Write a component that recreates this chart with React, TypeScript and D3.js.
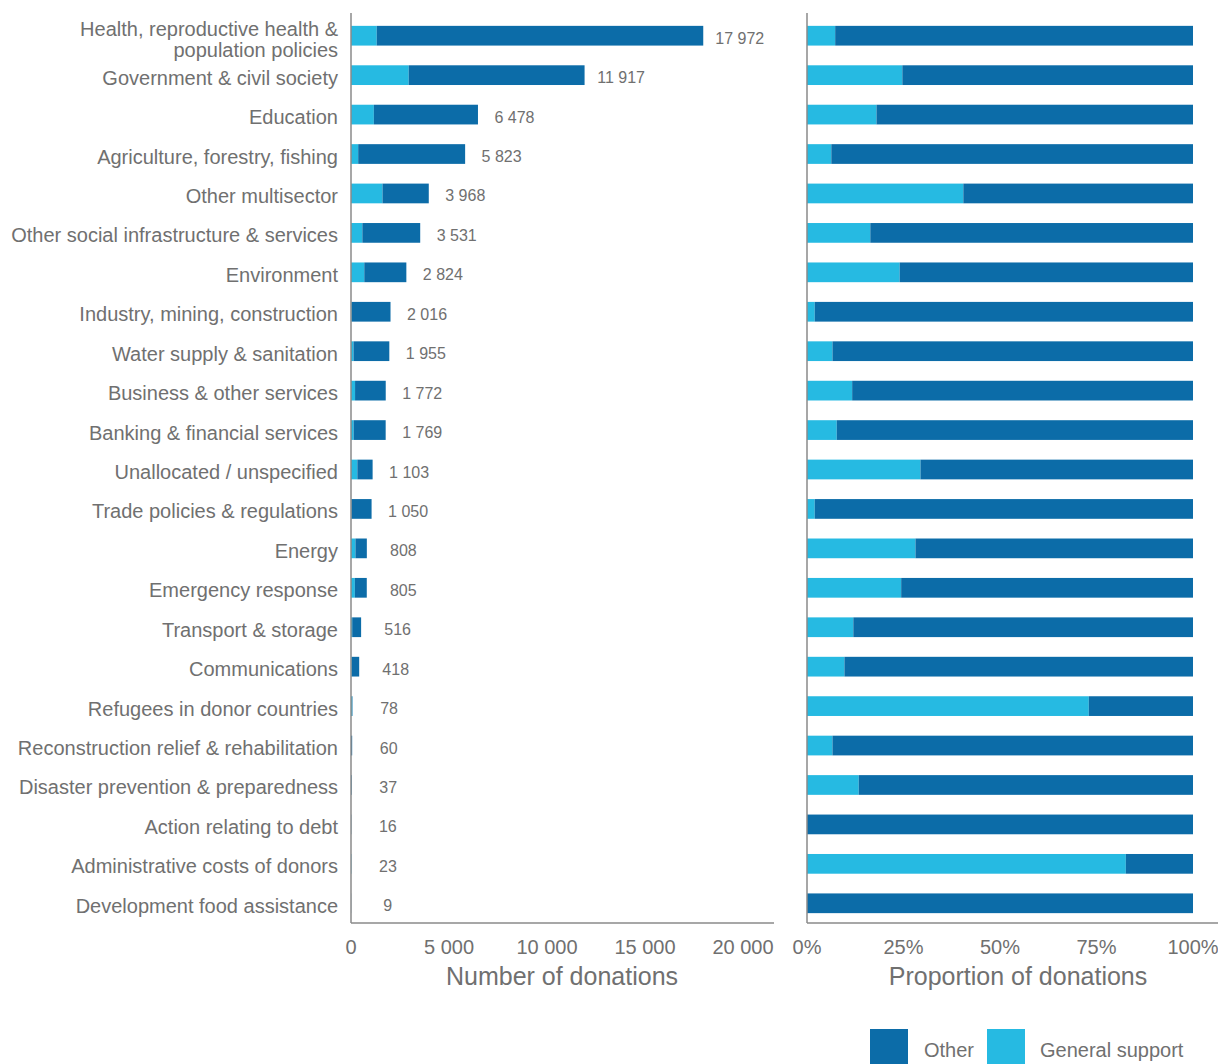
import React from "react";
import * as d3 from "d3";

const categories: string[] = [
  "Health, reproductive health &\npopulation policies",
  "Government & civil society",
  "Education",
  "Agriculture, forestry, fishing",
  "Other multisector",
  "Other social infrastructure & services",
  "Environment",
  "Industry, mining, construction",
  "Water supply & sanitation",
  "Business & other services",
  "Banking & financial services",
  "Unallocated / unspecified",
  "Trade policies & regulations",
  "Energy",
  "Emergency response",
  "Transport & storage",
  "Communications",
  "Refugees in donor countries",
  "Reconstruction relief & rehabilitation",
  "Disaster prevention & preparedness",
  "Action relating to debt",
  "Administrative costs of donors",
  "Development food assistance",
];

const totalDonations: number[] = [
  17972, 11917, 6478, 5823, 3968, 3531, 2824, 2016, 1955, 1772, 1769, 1103,
  1050, 808, 805, 516, 418, 78, 60, 37, 16, 23, 9,
];

// share of "General support" in percent
const generalSharePct: number[] = [
  7.3, 24.7, 18.0, 6.3, 40.5, 16.4, 24.0, 2.0, 6.6, 11.7, 7.7, 29.4, 2.0,
  28.1, 24.4, 12.0, 9.7, 73.0, 6.6, 13.4, 0, 82.6, 0,
];

const countTicks: number[] = [0, 5000, 10000, 15000, 20000];
const pctTicks: number[] = [0, 0.25, 0.5, 0.75, 1];
const seriesNames: string[] = ["Other", "General support"];

const DARK = "#0C6CA8";
const LIGHT = "#26BAE2";
const TEXT = "#707070";
const AXIS = "#8a8a8a";
const FONT = "'Liberation Sans', Arial, sans-serif";

const locale = d3.formatLocale({
  decimal: ".",
  thousands: "\u00a0",
  grouping: [3],
  currency: ["", ""],
});
const fmt = locale.format(",");
const pctFmt = d3.format(".0%");

export default function App() {
  const W = 1218;
  const H = 1064;
  const top = 16;
  const bottom = 923;

  const y = d3
    .scaleBand<number>()
    .domain(d3.range(categories.length))
    .range([top, bottom])
    .paddingInner(0.5)
    .paddingOuter(0.25);

  const xL = d3.scaleLinear().domain([0, 20000]).range([351, 743]);
  const xR = d3.scaleLinear().domain([0, 1]).range([807, 1193]);

  const bh = y.bandwidth();

  return (
    <svg
      width={W}
      height={H}
      style={{ position: "absolute", left: 0, top: 0, display: "block" }}
      fontFamily={FONT}
    >
      <rect x={0} y={0} width={W} height={H} fill="#fff" />

      {/* Category labels */}
      {categories.map((c, i) => {
        const lines = c.split("\n");
        const cy = (y(i) as number) + bh / 2;
        const first = cy + 9.5 - (lines.length - 1) * 9.5;
        return (
          <text
            key={"lab" + i}
            x={338}
            y={first}
            textAnchor="end"
            fontSize={20}
            fill={TEXT}
          >
            {lines.map((l, j) => (
              <tspan key={j} x={338} y={first + j * 21.5}>
                {l}
              </tspan>
            ))}
          </text>
        );
      })}

      {/* Left panel bars */}
      {totalDonations.map((t, i) => {
        const g = (t * generalSharePct[i]) / 100;
        const yy = y(i) as number;
        return (
          <g key={"lb" + i}>
            <rect
              x={xL(0)}
              y={yy}
              width={Math.max(0, xL(g) - xL(0))}
              height={bh}
              fill={LIGHT}
            />
            <rect
              x={xL(g)}
              y={yy}
              width={Math.max(0, xL(t) - xL(g))}
              height={bh}
              fill={DARK}
            />
            <text
              x={xL(t) + 36.5}
              y={yy + bh / 2 + 8}
              textAnchor="middle"
              fontSize={16}
              fill={TEXT}
            >
              {fmt(t)}
            </text>
          </g>
        );
      })}

      {/* Right panel bars */}
      {generalSharePct.map((p, i) => {
        const s = p / 100;
        const yy = y(i) as number;
        return (
          <g key={"rb" + i}>
            <rect
              x={xR(0)}
              y={yy}
              width={xR(s) - xR(0)}
              height={bh}
              fill={LIGHT}
            />
            <rect
              x={xR(s)}
              y={yy}
              width={xR(1) - xR(s)}
              height={bh}
              fill={DARK}
            />
          </g>
        );
      })}

      {/* Axes lines */}
      <line x1={351} x2={351} y1={13} y2={bottom} stroke={AXIS} strokeWidth={1.5} />
      <line x1={351} x2={774} y1={bottom} y2={bottom} stroke={AXIS} strokeWidth={1.5} />
      <line x1={807} x2={807} y1={13} y2={bottom} stroke={AXIS} strokeWidth={1.5} />
      <line x1={807} x2={1218} y1={bottom} y2={bottom} stroke={AXIS} strokeWidth={1.5} />

      {/* Tick labels */}
      {countTicks.map((t) => (
        <text
          key={"ct" + t}
          x={xL(t)}
          y={954}
          textAnchor="middle"
          fontSize={20}
          fill={TEXT}
        >
          {fmt(t)}
        </text>
      ))}
      {pctTicks.map((t) => (
        <text
          key={"pt" + t}
          x={xR(t)}
          y={954}
          textAnchor="middle"
          fontSize={20}
          fill={TEXT}
        >
          {pctFmt(t)}
        </text>
      ))}

      {/* Axis titles */}
      <text x={562} y={985} textAnchor="middle" fontSize={25} fill={TEXT}>
        Number of donations
      </text>
      <text x={1018} y={985} textAnchor="middle" fontSize={25} fill={TEXT}>
        Proportion of donations
      </text>

      {/* Legend */}
      <rect x={870} y={1029} width={38} height={38} fill={DARK} />
      <text x={924} y={1057} fontSize={20} fill={TEXT}>
        {seriesNames[0]}
      </text>
      <rect x={987} y={1029} width={38} height={38} fill={LIGHT} />
      <text x={1040} y={1057} fontSize={20} fill={TEXT}>
        {seriesNames[1]}
      </text>
    </svg>
  );
}
